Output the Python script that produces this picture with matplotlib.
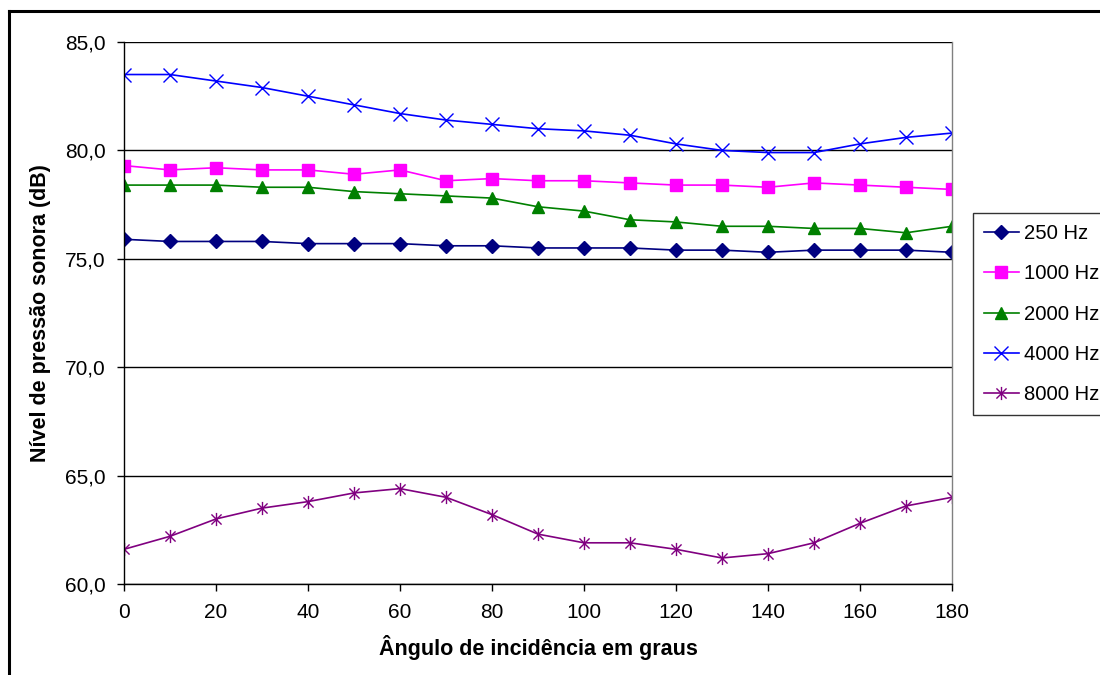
import numpy as np
import matplotlib.pyplot as plt
from matplotlib.path import Path
from matplotlib.lines import Line2D
from matplotlib.ticker import FuncFormatter

plt.rcParams['font.family'] = ['Liberation Sans', 'DejaVu Sans']

# Data
angulos = [0, 10, 20, 30, 40, 50, 60, 70, 80, 90, 100, 110, 120, 130, 140, 150, 160, 170, 180]
hz_250 = [75.9, 75.8, 75.8, 75.8, 75.7, 75.7, 75.7, 75.6, 75.6, 75.5, 75.5, 75.5, 75.4, 75.4, 75.3, 75.4, 75.4, 75.4, 75.3]
hz_1000 = [79.3, 79.1, 79.2, 79.1, 79.1, 78.9, 79.1, 78.6, 78.7, 78.6, 78.6, 78.5, 78.4, 78.4, 78.3, 78.5, 78.4, 78.3, 78.2]
hz_2000 = [78.4, 78.4, 78.4, 78.3, 78.3, 78.1, 78.0, 77.9, 77.8, 77.4, 77.2, 76.8, 76.7, 76.5, 76.5, 76.4, 76.4, 76.2, 76.5]
hz_4000 = [83.5, 83.5, 83.2, 82.9, 82.5, 82.1, 81.7, 81.4, 81.2, 81.0, 80.9, 80.7, 80.3, 80.0, 79.9, 79.9, 80.3, 80.6, 80.8]
hz_8000 = [61.6, 62.2, 63.0, 63.5, 63.8, 64.2, 64.4, 64.0, 63.2, 62.3, 61.9, 61.9, 61.6, 61.2, 61.4, 61.9, 62.8, 63.6, 64.0]
legendas = ['250 Hz', '1000 Hz', '2000 Hz', '4000 Hz', '8000 Hz']

# asterisk marker: X plus a vertical bar
estrela = Path([(-1, -1), (1, 1), (-1, 1), (1, -1), (0, -1.3), (0, 1.3)],
               [Path.MOVETO, Path.LINETO, Path.MOVETO, Path.LINETO, Path.MOVETO, Path.LINETO])

series = [
    (hz_250, '#000080', 'D', 7.5),
    (hz_1000, '#FF00FF', 's', 8),
    (hz_2000, '#008000', '^', 8.5),
    (hz_4000, '#0000FF', 'x', 9.5),
    (hz_8000, '#800080', estrela, 9.5),
]

fig = plt.figure(figsize=(11, 6.75), dpi=100)
ax = fig.add_axes([124 / 1100, 1 - 584 / 675, 828 / 1100, 542 / 675])

for (vals, cor, mk, ms), nome in zip(series, legendas):
    ax.plot(angulos, vals, color=cor, marker=mk, markersize=ms, lw=1.2,
            markerfacecolor=cor, markeredgecolor=cor, markeredgewidth=1.0, label=nome)

ax.set_xlim(0, 180)
ax.set_ylim(60, 85)
ax.set_xticks(np.arange(0, 181, 20))
ax.set_yticks(np.arange(60, 86, 5))
ax.yaxis.set_major_formatter(FuncFormatter(lambda v, p: f'{v:.1f}'.replace('.', ',')))
ax.tick_params(direction='out', length=5, width=1, colors='black', labelsize=15, pad=8)
ax.tick_params(axis='x', pad=9)

ax.grid(axis='y', color='black', lw=1)
ax.set_axisbelow(True)
ax.spines['top'].set_visible(False)
ax.spines['right'].set_color('#808080')
ax.spines['left'].set_color('black')
ax.spines['bottom'].set_color('black')
for s in ax.spines.values():
    s.set_linewidth(1)

ax.set_xlabel('Ângulo de incidência em graus', fontsize=15.5, fontweight='bold', labelpad=9)
ax.set_ylabel('Nível de pressão sonora (dB)', fontsize=15.5, fontweight='bold', labelpad=10)

ax.legend(loc='upper left', bbox_to_anchor=(973 / 1100, 1 - 213 / 675),
          bbox_transform=fig.transFigure, borderaxespad=0, frameon=True,
          fancybox=False, edgecolor='black', fontsize=14.6, handlelength=1.7,
          handletextpad=0.25, labelspacing=1.05, borderpad=0.55)
ax.get_legend().get_frame().set_linewidth(1)

# outer chart frame (top and left edges)
fig.add_artist(Line2D([9 / 1100, 1], [1 - 11 / 675, 1 - 11 / 675], color='black', lw=2.2,
                      transform=fig.transFigure))
fig.add_artist(Line2D([9 / 1100, 9 / 1100], [0, 1 - 11 / 675], color='black', lw=2.2,
                      transform=fig.transFigure))

fig.savefig('out.png', dpi=100)
